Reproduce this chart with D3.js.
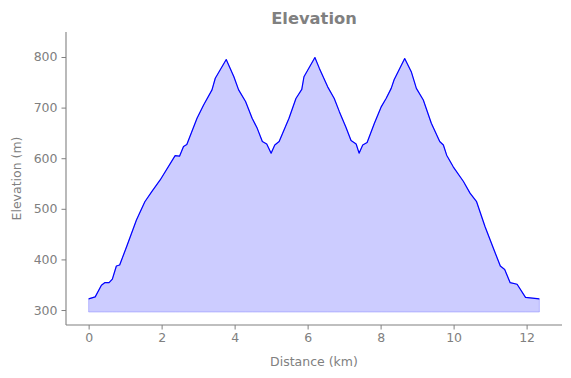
<!DOCTYPE html>
<html><head><meta charset="utf-8">
<script src="https://cdn.jsdelivr.net/npm/d3@7"></script>
<style>body{margin:0;background:#fff}svg{display:block}text{font-family:"DejaVu Sans",sans-serif}</style>
</head><body><svg id="c" width="571" height="378"></svg>
<script>
const distanceKm = [0,0.18,0.35,0.44,0.56,0.65,0.76,0.85,1.04,1.31,1.54,1.73,1.96,2.37,2.49,2.6,2.69,2.97,3.15,3.38,3.47,3.77,
3.98,4.11,4.3,4.48,4.62,4.76,4.88,5.0,5.1,5.22,5.49,5.68,5.84,5.9,6.2,6.32,6.55,6.73,6.87,7.05,7.19,7.33,7.41,7.51,7.63,7.83,8.02,8.15,8.29,8.37,8.66,
8.84,8.98,9.17,9.39,9.62,9.72,9.81,9.99,10.27,10.45,10.63,10.86,11.09,11.28,11.4,11.55,11.74,11.97,12.35];
const elevationM = [322,326,349,354,354,361,387,389,425,478,514,534,557,605,604,623,627,679,705,735,758,795,
761,735,712,679,659,633,628,610,626,633,679,718,736,761,799,778,741,718,692,661,635,628,610,626,631,669,702,718,738,755,797,
771,738,715,669,633,626,606,583,554,531,514,465,422,387,380,354,351,325,322];
const baseline = 296;
const xTicks = [0,2,4,6,8,10,12];
const yTicks = [300,400,500,600,700,800];
const title = "Elevation", xLabel = "Distance (km)", yLabel = "Elevation (m)";

const L=66,R=562,T=32,B=325, gray="#808080";
const svg=d3.select("#c");
const x=d3.scaleLinear().domain([-0.62,12.97]).range([L,R]);
const y=d3.scaleLinear().domain([270.4,849.4]).range([B,T]);
const data=distanceKm.map((d,i)=>({d,e:elevationM[i]}));

svg.append("path").datum(data)
  .attr("d",d3.area().x(p=>x(p.d)).y0(y(baseline)).y1(p=>y(p.e)))
  .attr("fill","blue").attr("fill-opacity",0.2)
  .attr("stroke","blue").attr("stroke-opacity",0.2).attr("stroke-width",1);
svg.append("path").datum(data)
  .attr("d",d3.line().x(p=>x(p.d)).y(p=>y(p.e)))
  .attr("fill","none").attr("stroke","blue").attr("stroke-width",1.2).attr("stroke-linejoin","round");

const xa=svg.append("g").attr("transform",`translate(0,${B})`)
  .call(d3.axisBottom(x).tickValues(xTicks).tickFormat(d3.format("d")).tickSize(4.5).tickPadding(4));
const ya=svg.append("g").attr("transform",`translate(${L},0)`)
  .call(d3.axisLeft(y).tickValues(yTicks).tickFormat(d3.format("d")).tickSize(4.5).tickPadding(4));
[xa,ya].forEach(a=>{
  a.select(".domain").attr("stroke",gray).attr("stroke-width",1.1);
  a.selectAll(".tick line").attr("stroke",gray);
  a.selectAll(".tick text").attr("fill",gray).attr("font-size",12.5).attr("font-family","DejaVu Sans");
});
xa.select(".domain").attr("d",`M${L},0H${R}`);
ya.select(".domain").attr("d",`M0,${B}V${T}`);

svg.append("text").attr("x",(L+R)/2).attr("y",23.5).attr("text-anchor","middle")
  .attr("font-size",16.3).attr("font-weight","bold").attr("fill",gray).text(title);
svg.append("text").attr("x",(L+R)/2).attr("y",366).attr("text-anchor","middle")
  .attr("font-size",12.5).attr("fill",gray).text(xLabel);
svg.append("text").attr("transform",`translate(21,${(T+B)/2}) rotate(-90)`).attr("text-anchor","middle")
  .attr("font-size",12.5).attr("fill",gray).text(yLabel);
</script></body></html>
